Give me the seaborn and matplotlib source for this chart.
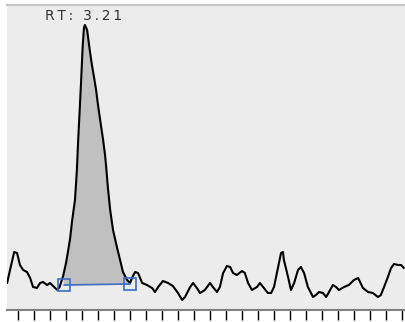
import numpy as np
import matplotlib
matplotlib.use("Agg")
import matplotlib.pyplot as plt
import seaborn as sns

# retention time (min) and detector response
rt = [2.965, 2.974, 2.987, 2.996, 3.005, 3.015, 3.027, 3.037, 3.046, 3.058,
      3.068, 3.077, 3.090, 3.099, 3.115, 3.122, 3.129, 3.140, 3.149, 3.155,
      3.162, 3.168, 3.177, 3.183, 3.187, 3.191, 3.196, 3.201, 3.205, 3.208,
      3.215, 3.219, 3.224, 3.230, 3.237, 3.243, 3.249, 3.258, 3.265, 3.271,
      3.274, 3.280, 3.287, 3.296, 3.308, 3.318, 3.327, 3.340, 3.349,
      3.358, 3.365, 3.374, 3.387,
      3.402, 3.418, 3.427, 3.437, 3.452, 3.468, 3.483, 3.499, 3.512, 3.521,
      3.537, 3.546, 3.558, 3.568, 3.583, 3.599, 3.608, 3.621, 3.630, 3.640,
      3.652, 3.662, 3.671, 3.683, 3.699, 3.708, 3.718, 3.730, 3.746, 3.755,
      3.765, 3.780, 3.790, 3.799, 3.812, 3.821, 3.827, 3.830, 3.843, 3.852,
      3.862, 3.874, 3.883, 3.893, 3.905, 3.921, 3.930, 3.940, 3.952, 3.962,
      3.971, 3.983, 3.993, 4.002, 4.018, 4.033, 4.049, 4.062, 4.077, 4.093,
      4.108, 4.124, 4.133, 4.143, 4.155, 4.165, 4.174, 4.187, 4.196, 4.205]
signal = [27, 40, 58, 57, 45, 40, 38, 32, 23, 22,
          27, 28, 25, 27, 22, 20, 23, 34, 47, 58,
          72, 89, 110, 140, 170, 195, 228, 263, 282, 285,
          280, 270, 258, 245, 232, 220, 205, 185, 170, 155,
          145, 122, 100, 80, 63, 50, 38, 30, 27,
          34, 38, 37, 27,
          25, 22, 18, 23, 29, 27, 24, 17, 10, 13,
          23, 27, 22, 17, 20, 27, 23, 18, 23, 37,
          44, 43, 37, 35, 39, 37, 27, 20, 23, 27,
          23, 17, 17, 23, 43, 57, 58, 50, 33, 20,
          27, 40, 43, 37, 23, 13, 15, 18, 17, 13,
          18, 25, 23, 20, 23, 25, 30, 32, 22, 18,
          17, 13, 15, 23, 33, 42, 46, 45, 45, 42]

# integration limits (peak start / end) and label
peak_bounds = [3.143, 3.349]
peak_base = [25, 26]
peak_label = "R\u2009T\u2009:\u2009 \u20093\u2009.\u20092\u20091"   # "RT: 3.21", spaced out
tick_times = np.arange(3.0, 4.2001, 0.05)

sns.set_style("white")

fig = plt.figure(figsize=(4.06, 3.22), dpi=100)
ax = fig.add_axes([6.5 / 406, 12 / 322, 399.5 / 406, 305 / 322])
ax.set_facecolor("#ececec")

rt_arr = np.array(rt)
sig_arr = np.array(signal, dtype=float)

# shaded integrated area between trace and baseline
mask = (rt_arr >= peak_bounds[0] - 0.004) & (rt_arr <= peak_bounds[1])
base = np.interp(rt_arr[mask], peak_bounds, peak_base)
ax.fill_between(rt_arr[mask], base, np.maximum(sig_arr[mask], base),
                color="#c0c0c0", lw=0, zorder=1)

sns.lineplot(x=rt, y=signal, ax=ax, color="black", lw=1.5, zorder=3)

# baseline with start/end markers
ax.plot(peak_bounds, peak_base, color="#3d6cc0", lw=1.2, zorder=4)
ax.plot(peak_bounds, peak_base, ls="none", marker="s", ms=9,
        mfc="none", mec="#3d6cc0", mew=1.2, zorder=5)

apex = rt_arr[np.argmax(sig_arr)]
ax.text(apex - 0.003, 290.5, peak_label, ha="center", va="baseline",
        fontsize=10, color="#333333")

ax.set_xlim(2.963, 4.2116)
ax.set_ylim(0, 305)
ax.set_xticks(tick_times)
ax.set_xticklabels([])
ax.set_yticks([])
ax.tick_params(axis="x", direction="out", length=7.5, width=1,
               color="black", bottom=True)
for side in ["left", "right"]:
    ax.spines[side].set_visible(False)
ax.spines["top"].set_color("#c8c8c8")
ax.spines["top"].set_linewidth(1.5)
ax.spines["bottom"].set_color("#808080")
ax.spines["bottom"].set_linewidth(1.5)

fig.savefig("out.png", dpi=100)
